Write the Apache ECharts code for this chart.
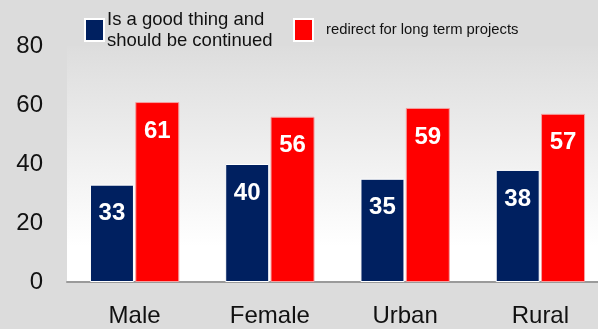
<!DOCTYPE html>
<html><head><meta charset="utf-8">
<script src="https://cdn.jsdelivr.net/npm/echarts@6/dist/echarts.min.js"></script>
<style>html,body{margin:0;padding:0;background:#dcdcdc;overflow:hidden}#c{width:612px;height:329px}</style>
</head><body><div id="c"></div>
<script>
const categories = ['Male', 'Female', 'Urban', 'Rural'];
const goodThing = [33, 40, 35, 38];
const redirect = [61, 56, 59, 57];
const yTicks = [0, 20, 40, 60, 80];
const seriesNames = ['Is a good thing and\nshould be continued', 'redirect for long term projects'];

const chart = echarts.init(document.getElementById('c'));
const labelStyle = {show: true, position: 'insideTop', distance: 17, color: '#fff', fontFamily: 'Liberation Sans, Arial', fontWeight: 'bold', fontSize: 24};
chart.setOption({
  backgroundColor: '#dcdcdc',
  animation: false,
  legend: [
    {data: [{name: seriesNames[0], icon: 'rect'}], left: 79, top: 4, itemWidth: 19, itemHeight: 22, itemGap: 0,
     itemStyle: {borderColor: '#fff', borderWidth: 2},
     textStyle: {fontFamily: 'Liberation Sans, Arial', fontSize: 18.5, color: '#111', lineHeight: 21, padding: [0, 0, 0, -2]}},
    {data: [{name: seriesNames[1], icon: 'rect'}], left: 288, top: 13, itemWidth: 19, itemHeight: 22,
     itemStyle: {borderColor: '#fff', borderWidth: 2},
     textStyle: {fontFamily: 'Liberation Sans, Arial', fontSize: 14.8, color: '#111', padding: [0, 0, 0, 8]}}
  ],
  grid: {left: 67, right: 4, top: 46, bottom: 47, show: true, borderWidth: 0,
    backgroundColor: new echarts.graphic.LinearGradient(0, 0, 0, 1, [
      {offset: 0, color: '#dddddd'}, {offset: 0.85, color: '#ffffff'}, {offset: 1, color: '#ffffff'}])},
  xAxis: {type: 'category', data: categories,
    axisLine: {lineStyle: {color: '#9a9a9a', width: 2}}, axisTick: {show: false},
    axisLabel: {fontFamily: 'Liberation Sans, Arial', fontSize: 24, color: '#111', margin: 22}},
  yAxis: {type: 'value', min: yTicks[0], max: yTicks[yTicks.length - 1], interval: 20,
    axisLine: {show: false}, axisTick: {show: false}, splitLine: {show: false},
    axisLabel: {fontFamily: 'Liberation Sans, Arial', fontSize: 24, color: '#111', margin: 24}},
  series: [
    {name: seriesNames[0], type: 'bar', data: goodThing, barWidth: 44, barGap: '3%',
     itemStyle: {color: '#002060', borderColor: '#ffffff', borderWidth: 1}, label: labelStyle},
    {name: seriesNames[1], type: 'bar', data: redirect, barWidth: 44,
     itemStyle: {color: '#ff0000', borderColor: '#f4a0a0', borderWidth: 1}, label: labelStyle}
  ]
});
</script></body></html>
